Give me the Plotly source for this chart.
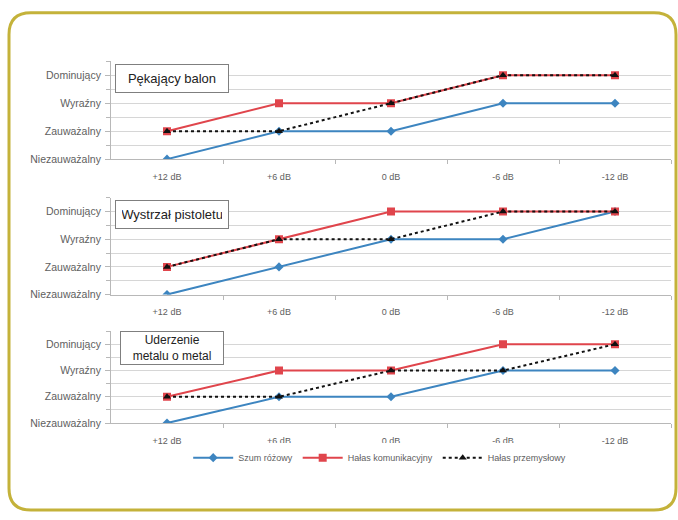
import plotly.graph_objects as go

W, H = 678, 520

levels = ["Niezauważalny", "Zauważalny", "Wyraźny", "Dominujący"]
snr_labels = ["+12 dB", "+6 dB", "0 dB", "-6 dB", "-12 dB"]

panel_titles = ["Pękający balon", "Wystrzał pistoletu", "Uderzenie<br>metalu o metal"]

series_names = ["Szum różowy", "Hałas komunikacyjny", "Hałas przemysłowy"]

# level index (0 = Niezauważalny ... 3 = Dominujący) per SNR step
pink_noise = [
    [0, 1, 1, 2, 2],
    [0, 1, 2, 2, 3],
    [0, 1, 1, 2, 2],
]
traffic_noise = [
    [1, 2, 2, 3, 3],
    [1, 2, 3, 3, 3],
    [1, 2, 2, 3, 3],
]
industrial_noise = [
    [1, 1, 2, 3, 3],
    [1, 2, 2, 3, 3],
    [1, 1, 2, 2, 3],
]

BLUE = "#3d85c0"
RED = "#e0454c"
BLACK = "#111111"
GRID = "#d6d6d6"
AXIS = "#b8b8b8"
FRAME = "#c4b23a"
LABEL = "#606060"

# plot areas in pixels (top, bottom) from the top of the page
panels_px = [(62, 161), (200, 298), (335, 428)]
x_left, x_right = 111, 671

fig = go.Figure()

styles = [
    (pink_noise, BLUE, dict(symbol="diamond", size=7), dict(width=2)),
    (traffic_noise, RED, dict(symbol="square", size=8), dict(width=2)),
    (industrial_noise, BLACK, dict(symbol="triangle-up", size=7), dict(width=2, dash="dot")),
]

x_pos = list(range(len(snr_labels)))

for p, (top, bot) in enumerate(panels_px):
    ax = "" if p == 0 else str(p + 1)
    for s, (data, color, marker, line) in enumerate(styles):
        fig.add_trace(go.Scatter(
            x=x_pos, y=data[p], mode="lines+markers",
            name=series_names[s], legendgroup=series_names[s],
            showlegend=(p == 0),
            line=dict(color=color, **line),
            marker=dict(color=color, **marker),
            xaxis="x" + ax, yaxis="y" + ax,
        ))
    dom_y = [1 - bot / H, 1 - top / H]
    fig.layout["xaxis" + ax] = dict(
        domain=[x_left / W, x_right / W], range=[-0.5, 4.5],
        tickvals=x_pos, ticktext=snr_labels, showgrid=False,
        showline=True, linecolor=AXIS, zeroline=False,
        ticks="", ticklabelstandoff=9,
        minor=dict(tickvals=[0.5, 1.5, 2.5, 3.5, 4.5], ticks="outside",
                   ticklen=4, tickcolor=AXIS),
        tickfont=dict(family="Liberation Sans", size=9, color=LABEL),
        anchor="y" + ax, fixedrange=True,
    )
    fig.layout["yaxis" + ax] = dict(
        domain=dom_y, range=[0, 3.5],
        tickvals=[0, 1, 2, 3], ticktext=levels,
        showgrid=True, gridcolor=GRID, gridwidth=1,
        minor=dict(tickvals=[0.5, 1.5, 2.5, 3.5], showgrid=True, gridcolor=GRID,
                   ticks="outside", ticklen=4, tickcolor=AXIS),
        showline=True, linecolor=AXIS, zeroline=False,
        ticks="outside", ticklen=5, tickcolor=AXIS,
        ticklabelstandoff=2,
        tickfont=dict(family="Liberation Sans", size=10.5, color=LABEL),
        anchor="x" + ax, fixedrange=True,
    )
    fig.add_annotation(
        xref="paper", yref="paper",
        x=172 / W, y=1 - (top + 17) / H,
        xanchor="center", yanchor="middle",
        text=panel_titles[p], showarrow=False,
        font=dict(family="Liberation Sans", size=13 if p < 2 else 12, color="#222222"),
        bgcolor="white", bordercolor="#7f7f7f", borderwidth=1,
        borderpad=6 if p < 2 else 1, width=100, align="center",
    )

# rounded outer frame
x0, x1 = 9 / W, 676 / W
y0, y1 = 1 - 516 / H, 1 - 13 / H
rx, ry = 22 / W, 22 / H
path = (
    f"M {x0 + rx},{y1} L {x1 - rx},{y1} Q {x1},{y1} {x1},{y1 - ry} "
    f"L {x1},{y0 + ry} Q {x1},{y0} {x1 - rx},{y0} "
    f"L {x0 + rx},{y0} Q {x0},{y0} {x0},{y0 + ry} "
    f"L {x0},{y1 - ry} Q {x0},{y1} {x0 + rx},{y1} Z"
)
fig.add_shape(type="path", path=path, xref="paper", yref="paper",
              line=dict(color=FRAME, width=3), layer="below")

fig.update_layout(
    width=W, height=H,
    margin=dict(l=0, r=0, t=0, b=0),
    paper_bgcolor="white", plot_bgcolor="white",
    showlegend=True,
    legend=dict(
        orientation="h", x=0.56, xanchor="center",
        y=1 - 463 / H, yanchor="middle",
        font=dict(family="Liberation Sans", size=9, color=LABEL),
        itemwidth=40, tracegroupgap=0,
    ),
)

fig.write_html("out.html")
